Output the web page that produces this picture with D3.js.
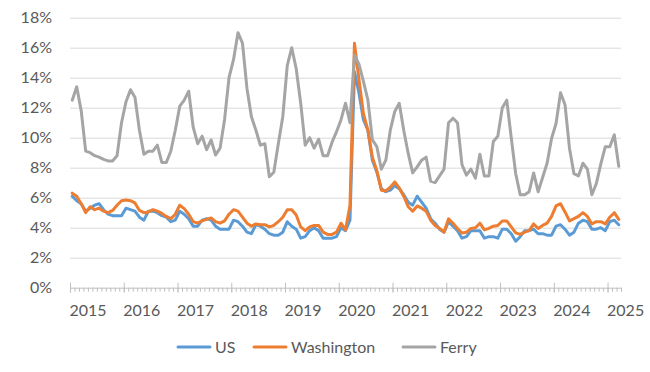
<!DOCTYPE html>
<html>
<head>
<meta charset="utf-8">
<script src="https://cdn.jsdelivr.net/npm/d3@7"></script>
<style>
  body { margin: 0; background: #fff; }
  svg { font-family: Lato, "Open Sans", sans-serif; }
</style>
</head>
<body>
<svg id="chart" width="650" height="372"></svg>
<script>
// monthly unemployment rate (%), Jan 2015 .. Mar 2025
var startYear = 2015;
var usRate = [
  6.1, 5.8, 5.6, 5.1, 5.3, 5.5, 5.6, 5.2, 4.9, 4.8, 4.8, 4.8,
  5.3, 5.2, 5.1, 4.7, 4.5, 5.1, 5.1, 5.0, 4.8, 4.7, 4.4, 4.5,
  5.1, 4.9, 4.6, 4.1, 4.1, 4.5, 4.6, 4.5, 4.1, 3.9, 3.9, 3.9,
  4.5, 4.4, 4.1, 3.7, 3.6, 4.2, 4.1, 3.9, 3.6, 3.5, 3.5, 3.7,
  4.4, 4.1, 3.9, 3.3, 3.4, 3.8, 4.0, 3.8, 3.3, 3.3, 3.3, 3.4,
  4.0, 3.8, 4.5, 14.4, 13.0, 11.2, 10.5, 8.5, 7.7, 6.6, 6.4, 6.5,
  6.8, 6.6, 6.2, 5.7, 5.5, 6.1, 5.7, 5.3, 4.6, 4.3, 3.9, 3.7,
  4.4, 4.1, 3.8, 3.3, 3.4, 3.8, 3.8, 3.8, 3.3, 3.4, 3.4, 3.3,
  3.9, 3.9, 3.6, 3.1, 3.4, 3.8, 3.8, 3.9, 3.6, 3.6, 3.5, 3.5,
  4.1, 4.2, 3.9, 3.5, 3.7, 4.3, 4.5, 4.4, 3.9, 3.9, 4.0, 3.8,
  4.4, 4.5, 4.2
];
var waRate = [
  6.3, 6.1, 5.6, 5.0, 5.4, 5.2, 5.3, 5.1, 5.0, 5.15, 5.5, 5.8,
  5.85, 5.8, 5.65, 5.15, 5.0, 5.05, 5.2, 5.1, 4.95, 4.75, 4.6, 4.9,
  5.5, 5.27, 4.9, 4.4, 4.3, 4.45, 4.55, 4.65, 4.4, 4.3, 4.45, 4.9,
  5.2, 5.1, 4.7, 4.3, 4.1, 4.25, 4.2, 4.2, 4.05, 4.15, 4.4, 4.7,
  5.2, 5.2, 4.85, 4.05, 3.8, 4.05, 4.15, 4.15, 3.7, 3.55, 3.55, 3.7,
  4.3, 3.85, 5.5, 16.3, 13.9, 11.6, 10.5, 8.7, 7.8, 6.5, 6.45, 6.7,
  7.05, 6.65, 6.1, 5.4, 5.1, 5.45, 5.3, 5.1, 4.5, 4.15, 3.95, 3.7,
  4.6, 4.3, 3.95, 3.65, 3.7, 3.95, 4.0, 4.3, 3.85, 3.95, 4.1, 4.15,
  4.45, 4.45, 4.05, 3.65, 3.55, 3.7, 3.8, 4.25, 3.95, 4.15, 4.3, 4.75,
  5.45, 5.6, 5.05, 4.45, 4.6, 4.75, 5.0, 4.75, 4.25, 4.4, 4.4, 4.25,
  4.7, 5.0, 4.55
];
var ferryRate = [
  12.5, 13.4, 11.8, 9.1, 9.0, 8.8, 8.7, 8.55, 8.45, 8.45, 8.8, 11.0,
  12.4, 13.2, 12.7, 10.5, 8.9, 9.1, 9.1, 9.5, 8.35, 8.35, 9.1, 10.5,
  12.1, 12.5, 13.1, 10.7, 9.6, 10.1, 9.2, 9.85, 8.85, 9.3, 11.2, 14.0,
  15.2, 17.0, 16.3, 13.3, 11.4, 10.5, 9.5, 9.6, 7.4, 7.7, 9.6, 11.4,
  14.8, 16.0, 14.6, 12.3, 9.5, 10.0, 9.3, 9.9, 8.8, 8.8, 9.7, 10.4,
  11.2, 12.3, 11.0, 15.5, 14.9, 13.75, 12.5, 9.85, 9.4, 7.9, 8.5, 10.5,
  11.75, 12.3, 10.5, 8.95, 7.65, 8.05, 8.5, 8.7, 7.1, 7.0, 7.45, 7.9,
  11.0, 11.3, 11.0, 8.2, 7.5, 7.9, 7.3, 8.9, 7.45, 7.45, 9.75, 10.1,
  12.0, 12.5, 10.0, 7.6, 6.2, 6.2, 6.4, 7.65, 6.4, 7.35, 8.3, 9.95,
  10.95, 13.0, 12.2, 9.3, 7.6, 7.45, 8.3, 7.9, 6.2, 6.95, 8.25, 9.4,
  9.4, 10.2, 8.1
];
var yTicks = [0, 2, 4, 6, 8, 10, 12, 14, 16, 18];
var seriesNames = ['US', 'Washington', 'Ferry'];
var seriesColors = ['#5B9BD5', '#ED7D31', '#A5A5A5'];

var series = [usRate, waRate, ferryRate];
var nMonths = usRate.length;

var svg = d3.select('#chart');
var plotLeft = 70, plotRight = 621, plotTop = 17.7, plotBottom = 287.7;

var x = d3.scaleLinear().domain([0, nMonths]).range([plotLeft, plotRight]);
var y = d3.scaleLinear().domain([0, 18]).range([plotBottom, plotTop]);

// gridlines
svg.append('g')
  .attr('transform', 'translate(' + plotLeft + ',0)')
  .call(d3.axisLeft(y).tickValues(yTicks.slice(1)).tickSize(-(plotRight - plotLeft)).tickFormat(''))
  .call(function(g) {
    g.select('.domain').remove();
    g.selectAll('line').attr('stroke', '#D9D9D9').attr('stroke-width', 1);
  });

// y labels
svg.append('g')
  .attr('transform', 'translate(' + plotLeft + ',0)')
  .call(d3.axisLeft(y).tickValues(yTicks).tickSize(0).tickPadding(18).tickFormat(function(d) { return d + '%'; }))
  .call(function(g) {
    g.select('.domain').remove();
    g.selectAll('text').attr('fill', '#595959').style('font-size', '16px')
      .style('font-family', 'Lato, "Open Sans", sans-serif');
  });

// x axis: minor monthly ticks
svg.append('g')
  .attr('transform', 'translate(0,' + plotBottom + ')')
  .call(d3.axisBottom(x).tickValues(d3.range(0, nMonths + 1)).tickSize(4).tickFormat(''))
  .call(function(g) {
    g.select('.domain').attr('stroke', '#BFBFBF');
    g.selectAll('line').attr('stroke', '#BFBFBF');
  });

// x axis: major yearly ticks (cross) + labels
var majorAxis = svg.append('g')
  .attr('transform', 'translate(0,' + plotBottom + ')')
  .call(d3.axisBottom(x).tickValues(d3.range(0, nMonths, 12)).tickSize(5).tickPadding(12)
    .tickFormat(function(d) { return startYear + d / 12; }));
majorAxis.select('.domain').remove();
majorAxis.selectAll('line').attr('y1', -5).attr('y2', 5).attr('stroke', '#BFBFBF');
majorAxis.selectAll('text')
  .attr('text-anchor', 'start').attr('dx', -1)
  .attr('fill', '#595959').style('font-size', '16px')
  .style('font-family', 'Lato, "Open Sans", sans-serif');

// lines
var line = d3.line()
  .x(function(d, i) { return x(i + 0.5); })
  .y(function(d) { return y(d); });

series.forEach(function(s, k) {
  svg.append('path')
    .datum(s)
    .attr('fill', 'none')
    .attr('stroke', seriesColors[k])
    .attr('stroke-width', 3)
    .attr('stroke-linejoin', 'round')
    .attr('stroke-linecap', 'round')
    .attr('d', line);
});

// legend
var legendX = [178, 254, 403];
var legend = svg.append('g').attr('transform', 'translate(0,347)');
seriesNames.forEach(function(name, k) {
  var item = legend.append('g').attr('transform', 'translate(' + legendX[k] + ',0)');
  item.append('line').attr('x1', 0).attr('x2', 32).attr('y1', 0).attr('y2', 0)
    .attr('stroke', seriesColors[k]).attr('stroke-width', 3).attr('stroke-linecap', 'round');
  item.append('text').attr('x', 37).attr('y', 0).attr('dy', '0.35em')
    .attr('fill', '#595959').style('font-size', '16px').text(name);
});
</script>
</body>
</html>
